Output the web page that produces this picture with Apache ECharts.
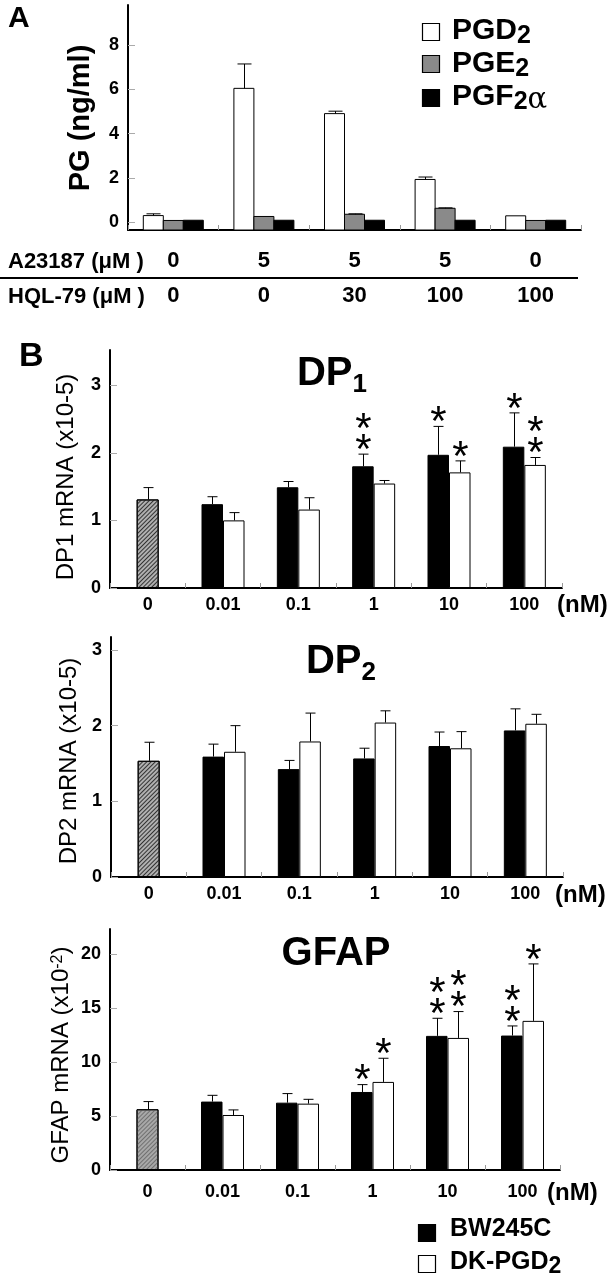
<!DOCTYPE html>
<html><head><meta charset="utf-8">
<style>html,body{margin:0;padding:0;background:#fff}#c{width:613px;height:1280px}</style>
<script src="https://cdn.jsdelivr.net/npm/echarts@6/dist/echarts.min.js"></script>
</head><body><div id="c"></div>
<script>
const FONT = "'Liberation Sans', Arial, Helvetica, sans-serif";

// ---------- Panel A data ----------
const groupsA = ['g1', 'g2', 'g3', 'g4', 'g5'];
const a23187Labels = ['0', '5', '5', '5', '0'];
const hql79Labels = ['0', '0', '30', '100', '100'];
const pgd2 = [0.30, 6.04, 4.90, 1.93, 0.29];
const pgd2Err = [0.08, 1.10, 0.11, 0.11, 0];
const pge2 = [0.08, 0.26, 0.36, 0.63, 0.08];
const pge2Err = [0, 0, 0.02, 0.02, 0];
const pgf2a = [0.09, 0.09, 0.09, 0.09, 0.09];
const pgf2aErr = [0, 0, 0, 0, 0];
const ticksA = [0, 2, 4, 6, 8];

// ---------- Panel B data ----------
const doses = ['0', '0.01', '0.1', '1', '10', '100'];
// DP1
const dp1Ctrl = 1.31, dp1CtrlErr = 0.175;
const dp1Bw = [1.24, 1.49, 1.80, 1.97, 2.09];
const dp1BwErr = [0.11, 0.085, 0.18, 0.42, 0.50];
const dp1Dk = [1.00, 1.16, 1.545, 1.71, 1.82];
const dp1DkErr = [0.115, 0.175, 0.045, 0.17, 0.11];
const dp1BwStars = [0, 0, 2, 1, 1];
const dp1DkStars = [0, 0, 0, 1, 2];
const ticksDP = [0, 1, 2, 3];
// DP2
const dp2Ctrl = 1.535, dp2CtrlErr = 0.245;
const dp2Bw = [1.59, 1.425, 1.566, 1.73, 1.936];
const dp2BwErr = [0.165, 0.115, 0.135, 0.185, 0.285];
const dp2Dk = [1.654, 1.79, 2.04, 1.70, 2.024];
const dp2DkErr = [0.345, 0.375, 0.155, 0.22, 0.125];
// GFAP
const gfCtrl = 5.62, gfCtrlErr = 0.71;
const gfBw = [6.33, 6.23, 7.22, 12.41, 12.44];
const gfBwErr = [0.58, 0.84, 0.68, 1.63, 0.89];
const gfDk = [5.09, 6.14, 8.15, 12.22, 13.80];
const gfDkErr = [0.47, 0.40, 2.19, 2.44, 5.27];
const gfBwStars = [0, 0, 1, 2, 2];
const gfDkStars = [0, 0, 1, 2, 1];
const ticksGF = [0, 5, 10, 15, 20];

// ---------- helpers ----------
const STAR_SIZE = 42;
function starText(x, y) {
  return { type: 'text', x: x, y: y + STAR_SIZE * 0.22,
    style: { text: '*', fontSize: STAR_SIZE, fontFamily: FONT, fill: '#000',
      align: 'center', verticalAlign: 'middle', textAlign: 'center', textVerticalAlign: 'middle' } };
}
function errRenderer(offset, stars) {
  return function (params, api) {
    const i = api.value(0), v = api.value(1), e = api.value(2);
    const p0 = api.coord([i, v]);
    const p1 = api.coord([i, v + e]);
    const x = Math.round(p0[0] + offset) + 0.5;
    const ch = [];
    if (e > 0) {
      ch.push({ type: 'line', shape: { x1: x, y1: p0[1], x2: x, y2: p1[1] }, style: { stroke: '#000', lineWidth: 1 } });
      ch.push({ type: 'line', shape: { x1: x - 5, y1: p1[1], x2: x + 5, y2: p1[1] }, style: { stroke: '#000', lineWidth: 1 } });
    }
    const n = stars ? (stars[params.dataIndex] || 0) : 0;
    for (let k = 0; k < n; k++) ch.push(starText(x, p1[1] - 12 - 21 * k));
    return { type: 'group', children: ch };
  };
}
function barARenderer(offset, fill) {
  return function (params, api) {
    const i = api.value(0), v = api.value(1), e = api.value(2);
    const c = api.coord([i, v]);
    const bottom = params.coordSys.y + params.coordSys.height;
    const w = 20;
    const x = c[0] + offset;
    const ch = [{ type: 'rect', shape: { x: x - w / 2, y: c[1], width: w, height: bottom - c[1] },
      style: { fill: fill, stroke: '#000', lineWidth: 1 } }];
    if (e > 0) {
      const t = api.coord([i, v + e]);
      const xx = Math.round(x) + 0.5;
      ch.push({ type: 'line', shape: { x1: xx, y1: c[1], x2: xx, y2: t[1] }, style: { stroke: '#000', lineWidth: 1 } });
      ch.push({ type: 'line', shape: { x1: xx - 7, y1: t[1], x2: xx + 7, y2: t[1] }, style: { stroke: '#000', lineWidth: 1 } });
    }
    return { type: 'group', children: ch };
  };
}
const triples = (vals, errs, start) => vals.map((v, k) => [k + start, v, errs[k]]);

function mainX(gridIndex, data, margin) {
  return { type: 'category', gridIndex, data, position: 'bottom',
    axisLine: { show: true, onZero: false, lineStyle: { color: '#000', width: 2 } },
    axisTick: { show: true, inside: true, length: 5, lineStyle: { color: '#999', width: 1 } },
    axisLabel: { show: true, interval: 0, margin: margin, color: '#000', fontFamily: FONT, fontWeight: 'bold', fontSize: 18 },
    splitLine: { show: false } };
}
function hiddenX(gridIndex, data) {
  return { type: 'category', gridIndex, data, show: false, position: 'bottom', axisLine: { onZero: false } };
}
function valY(gridIndex, min, max, ticks) {
  return { type: 'value', gridIndex, min, max,
    axisLine: { show: true, lineStyle: { color: '#000', width: 2 } },
    axisTick: { show: true, inside: true, length: 7, customValues: ticks, lineStyle: { color: '#aaa', width: 1 } },
    axisLabel: { show: true, customValues: ticks, margin: 9, color: '#000', fontFamily: FONT, fontWeight: 'bold', fontSize: 18 },
    splitLine: { show: false } };
}
const hatch = (bg, line) => ({ color: bg, borderColor: '#000', borderWidth: 1,
  decal: { symbol: 'rect', symbolSize: 1, dashArrayX: [[1, 0]], dashArrayY: [1, 2], rotation: -Math.PI / 4, color: line } });

function panelB(gi, xMain, xCtrl, ctrl, ctrlErr, bw, bwErr, dk, dkErr, bwStars, dkStars, ctrlStyle) {
  return [
    { type: 'bar', name: 'control', xAxisIndex: xCtrl, yAxisIndex: gi, barWidth: 22,
      data: doses.map((d, k) => k === 0 ? ctrl : '-'), itemStyle: ctrlStyle, silent: true },
    { type: 'bar', name: 'BW245C', xAxisIndex: xMain, yAxisIndex: gi, barWidth: 21.5, barGap: '0%',
      data: ['-'].concat(bw), itemStyle: { color: '#000', borderColor: '#000', borderWidth: 1 } },
    { type: 'bar', name: 'DK-PGD2', xAxisIndex: xMain, yAxisIndex: gi, barWidth: 21.5, barGap: '0%',
      data: ['-'].concat(dk), itemStyle: { color: '#fff', borderColor: '#000', borderWidth: 1 } },
    { type: 'custom', xAxisIndex: xCtrl, yAxisIndex: gi, z: 5, data: [[0, ctrl, ctrlErr]],
      renderItem: errRenderer(0, null), encode: { x: 0, y: 1 } },
    { type: 'custom', xAxisIndex: xMain, yAxisIndex: gi, z: 5, data: triples(bw, bwErr, 1),
      renderItem: errRenderer(-10.75, bwStars), encode: { x: 0, y: 1 } },
    { type: 'custom', xAxisIndex: xMain, yAxisIndex: gi, z: 5, data: triples(dk, dkErr, 1),
      renderItem: errRenderer(10.75, dkStars), encode: { x: 0, y: 1 } }
  ];
}

function txt(x, y, text, size, opts) {
  opts = opts || {};
  return { type: 'text', x, y, rotation: opts.rotation || 0,
    style: Object.assign({ text, fontSize: size, fontFamily: FONT, fontWeight: opts.weight || 'bold', fill: '#000',
      align: opts.align || 'left', verticalAlign: 'middle', textAlign: opts.align || 'left', textVerticalAlign: 'middle' },
      opts.rich ? { rich: opts.rich } : {}) };
}
function sq(x, y, fill) {
  return { type: 'rect', shape: { x, y, width: 17, height: 17 }, style: { fill, stroke: '#000', lineWidth: 1.2 } };
}
const titleRich = {
  a: { fontSize: 40, fontWeight: 'bold', fontFamily: FONT, verticalAlign: 'bottom', lineHeight: 44, padding: [0, 0, 4, 0] },
  b: { fontSize: 26, fontWeight: 'bold', fontFamily: FONT, verticalAlign: 'bottom', lineHeight: 30 }
};
const legRich = {
  a: { fontSize: 30, fontWeight: 'bold', fontFamily: FONT, verticalAlign: 'bottom', lineHeight: 32, padding: [0, 0, 3, 0] },
  b: { fontSize: 25, fontWeight: 'bold', fontFamily: FONT, verticalAlign: 'bottom', lineHeight: 25 },
  g: { fontSize: 29, fontFamily: "'DejaVu Serif', serif", verticalAlign: 'bottom', lineHeight: 25 }
};
const legRichB = {
  a: { fontSize: 25, fontWeight: 'bold', fontFamily: FONT, verticalAlign: 'bottom', lineHeight: 28, padding: [0, 0, 3, 0] },
  b: { fontSize: 23, fontWeight: 'bold', fontFamily: FONT, verticalAlign: 'bottom', lineHeight: 23 }
};
const supRich = {
  a: { fontSize: 24, fontFamily: FONT, verticalAlign: 'top', lineHeight: 27 },
  s: { fontSize: 16, fontFamily: FONT, verticalAlign: 'top', lineHeight: 16 }
};

const chart = echarts.init(document.getElementById('c'), null, { renderer: 'canvas' });
chart.setOption({
  backgroundColor: '#fff',
  animation: false,
  grid: [
    { left: 128, top: 5, width: 453, height: 225 },
    { left: 110, top: 350, width: 452, height: 238 },
    { left: 111, top: 637, width: 452, height: 240 },
    { left: 110, top: 929, width: 450, height: 241 }
  ],
  xAxis: [
    Object.assign(mainX(0, groupsA, 8), { axisLabel: { show: false } }),
    { type: 'category', gridIndex: 0, data: a23187Labels, position: 'bottom',
      axisLine: { show: false, onZero: false }, axisTick: { show: false },
      axisLabel: { interval: 0, margin: 20, color: '#000', fontFamily: FONT, fontWeight: 'bold', fontSize: 22 } },
    { type: 'category', gridIndex: 0, data: hql79Labels, position: 'bottom',
      axisLine: { show: false, onZero: false }, axisTick: { show: false },
      axisLabel: { interval: 0, margin: 55, color: '#000', fontFamily: FONT, fontWeight: 'bold', fontSize: 22 } },
    mainX(1, doses, 8), hiddenX(1, doses),
    mainX(2, doses, 8), hiddenX(2, doses),
    mainX(3, doses, 13), hiddenX(3, doses)
  ],
  yAxis: [
    valY(0, -0.35, 9.8, ticksA),
    valY(1, 0, 3.52, ticksDP),
    valY(2, 0, 3.17, ticksDP),
    valY(3, 0, 22.3, ticksGF)
  ],
  series: [
    { type: 'custom', name: 'PGD2', xAxisIndex: 0, yAxisIndex: 0, data: triples(pgd2, pgd2Err, 0),
      renderItem: barARenderer(-20, '#fff'), encode: { x: 0, y: 1 } },
    { type: 'custom', name: 'PGE2', xAxisIndex: 0, yAxisIndex: 0, data: triples(pge2, pge2Err, 0),
      renderItem: barARenderer(0, '#8a8a8a'), encode: { x: 0, y: 1 } },
    { type: 'custom', name: 'PGF2α', xAxisIndex: 0, yAxisIndex: 0, data: triples(pgf2a, pgf2aErr, 0),
      renderItem: barARenderer(20, '#000'), encode: { x: 0, y: 1 } }
  ].concat(
    panelB(1, 3, 4, dp1Ctrl, dp1CtrlErr, dp1Bw, dp1BwErr, dp1Dk, dp1DkErr, dp1BwStars, dp1DkStars, hatch('#b0b0b0', '#333')),
    panelB(2, 5, 6, dp2Ctrl, dp2CtrlErr, dp2Bw, dp2BwErr, dp2Dk, dp2DkErr, null, null, hatch('#b0b0b0', '#333')),
    panelB(3, 7, 8, gfCtrl, gfCtrlErr, gfBw, gfBwErr, gfDk, gfDkErr, gfBwStars, gfDkStars, hatch('#a8a8a8', '#707070'))
  ),
  graphic: [
    txt(8, 19, 'A', 30),
    txt(81, 118, 'PG (ng/ml)', 29, { align: 'center', rotation: Math.PI / 2 }),
    sq(422.5, 23.5, '#fff'), txt(452, 33, '{a|PGD}{b|2}', 30, { rich: legRich }),
    sq(422.5, 55.5, '#8a8a8a'), txt(452, 66, '{a|PGE}{b|2}', 30, { rich: legRich }),
    sq(422.5, 89.5, '#000'), txt(452, 99, '{a|PGF}{b|2}{g|α}', 30, { rich: legRich }),
    txt(8, 261.5, 'A23187 (μM )', 22),
    { type: 'line', shape: { x1: 0, y1: 278, x2: 578, y2: 278 }, style: { stroke: '#000', lineWidth: 2 } },
    txt(8, 296.5, 'HQL-79 (μM )', 22),
    txt(19, 357, 'B', 34),
    txt(332, 376, '{a|DP}{b|1}', 40, { align: 'center', rich: titleRich }),
    txt(66, 477, 'DP1 mRNA (x10-5)', 24, { align: 'center', rotation: Math.PI / 2, weight: 'normal' }),
    txt(557, 605, '(nM)', 24),
    txt(341, 664, '{a|DP}{b|2}', 40, { align: 'center', rich: titleRich }),
    txt(69, 761, 'DP2 mRNA (x10-5)', 24, { align: 'center', rotation: Math.PI / 2, weight: 'normal' }),
    txt(555, 895, '(nM)', 24),
    txt(336, 954, 'GFAP', 40, { align: 'center' }),
    txt(63, 1055, '{a|GFAP mRNA (x10}{s|-2}{a|)}', 24, { align: 'center', rotation: Math.PI / 2, weight: 'normal', rich: supRich }),
    txt(547, 1193, '(nM)', 24),
    sq(418.5, 1224.5, '#000'), txt(450, 1231, '{a|BW245C}', 25, { rich: legRichB }),
    sq(418.5, 1255.5, '#fff'), txt(450, 1264, '{a|DK-PGD}{b|2}', 25, { rich: legRichB })
  ]
});
</script>
</body></html>
